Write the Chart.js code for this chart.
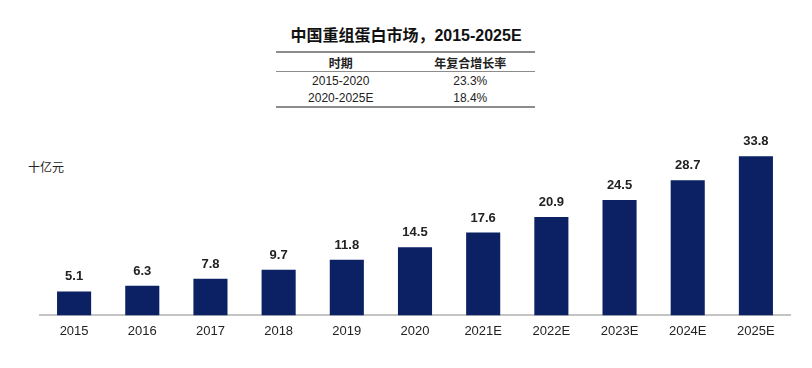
<!DOCTYPE html>
<html>
<head>
<meta charset="utf-8">
<script src="https://cdn.jsdelivr.net/npm/chart.js@4.4.0/dist/chart.umd.min.js"></script>
<style>
  html, body { margin: 0; padding: 0; background: #fff; }
  body { width: 812px; height: 368px; position: relative; overflow: hidden; font-family: Arial, "Liberation Sans", "Noto Sans CJK SC", sans-serif; }
  #title { position: absolute; left: 0; width: 812px; top: 22px; text-align: center; font-weight: bold; font-size: 16px; color: #111; }
  #cagr { position: absolute; left: 276px; top: 51px; width: 259px; border-collapse: collapse; font-size: 12px; color: #222; }
  #cagr th, #cagr td { text-align: center; padding: 0; height: 17px; }
  #cagr th { font-weight: bold; border-top: 2px solid #8c8c8c; border-bottom: 1px solid #8c8c8c; height: 18px; }
  #cagr tr:last-child td { border-bottom: 2px solid #8c8c8c; }
  #unit { position: absolute; left: 28px; top: 158px; font-size: 12px; color: #222; }
  #wrap { position: absolute; left: 0; top: 0; width: 812px; height: 368px; }
</style>
</head>
<body>
<div id="title">中国重组蛋白市场，2015-2025E</div>
<table id="cagr">
  <tr><th style="width:50%">时期</th><th>年复合增长率</th></tr>
  <tr><td>2015-2020</td><td>23.3%</td></tr>
  <tr><td>2020-2025E</td><td>18.4%</td></tr>
</table>
<div id="unit">十亿元</div>
<div id="wrap"><canvas id="chart"></canvas></div>
<script>
const years = ['2015', '2016', '2017', '2018', '2019', '2020', '2021E', '2022E', '2023E', '2024E', '2025E'];
const marketSize = [5.1, 6.3, 7.8, 9.7, 11.8, 14.5, 17.6, 20.9, 24.5, 28.7, 33.8];

// draws the value above each bar
const barLabels = {
    id: 'barLabels',
    afterDatasetsDraw(chart) {
        const ctx = chart.ctx;
        const meta = chart.getDatasetMeta(0);
        ctx.save();
        ctx.font = 'bold 13px Arial, "Liberation Sans", sans-serif';
        ctx.fillStyle = '#222';
        ctx.textAlign = 'center';
        ctx.textBaseline = 'bottom';
        meta.data.forEach((bar, i) => {
            ctx.fillText(marketSize[i].toFixed(1), bar.x, bar.y - 8);
        });
        ctx.restore();
    }
};

const ctx = document.getElementById('chart').getContext('2d');
new Chart(ctx, {
    type: 'bar',
    data: {
        labels: years,
        datasets: [{
            data: marketSize,
            backgroundColor: '#0b2163',
            categoryPercentage: 1.0,
            barPercentage: 0.5
        }]
    },
    options: {
        responsive: true,
        maintainAspectRatio: false,
        animation: false,
        layout: { padding: { left: 40, right: 22, top: 146, bottom: 29 } },
        plugins: {
            legend: { display: false },
            tooltip: { enabled: false }
        },
        scales: {
            x: {
                grid: { display: false },
                border: { color: '#c4c4c4', width: 2 },
                ticks: {
                    color: '#222',
                    font: { size: 13, family: 'Arial, "Liberation Sans", sans-serif' },
                    padding: 0,
                    maxRotation: 0
                }
            },
            y: {
                display: false,
                min: 0,
                max: 36
            }
        }
    },
    plugins: [barLabels]
});
</script>
</body>
</html>
